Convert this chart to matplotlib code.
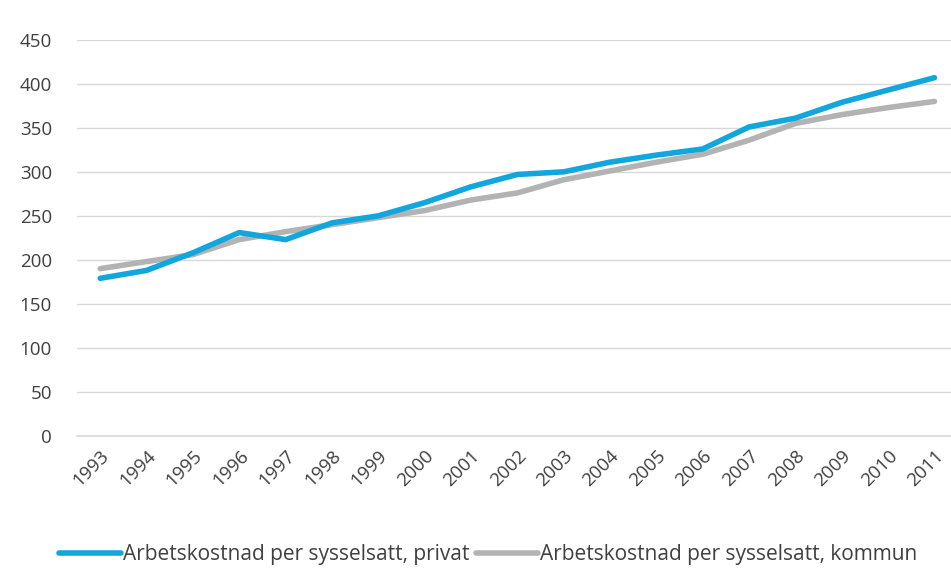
import matplotlib.pyplot as plt

years = [str(y) for y in range(1993, 2012)]
privat = [179, 188, 208, 231, 223, 242, 250, 265, 283, 297, 300, 311, 319, 326, 351, 361, 379, 393, 407]
kommun = [190, 198, 206, 223, 232, 240, 248, 256, 268, 276, 291, 301, 311, 320, 336, 355, 365, 373, 380]
yticks = list(range(0, 451, 50))

plt.rcParams['font.family'] = ['Open Sans', 'DejaVu Sans']

fig = plt.figure(figsize=(9.51, 5.69), dpi=100)
ax = fig.add_axes([0.081, 0.234, 0.926, 0.696])

x = list(range(len(years)))
ax.plot(x, privat, color='#13a6dd', lw=4, solid_capstyle='round', solid_joinstyle='round',
        label='Arbetskostnad per sysselsatt, privat', zorder=3)
ax.plot(x, kommun, color='#b3b3b3', lw=4, solid_capstyle='round', solid_joinstyle='round',
        label='Arbetskostnad per sysselsatt, kommun', zorder=2)

ax.set_xlim(-0.5, len(years) - 0.5)
ax.set_ylim(0, 450)
ax.set_yticks(yticks)
ax.set_xticks(x)
ax.set_xticklabels(years, rotation=45, ha='right', rotation_mode='anchor')
ax.grid(axis='y', color='#d9d9d9', lw=1)
ax.axhline(0, color='#d9d9d9', lw=1.2, clip_on=False, zorder=1)
ax.set_axisbelow(True)
for s in ax.spines.values():
    s.set_visible(False)
ax.tick_params(length=0, labelsize=13.5, colors='#404040')
ax.tick_params(axis='y', pad=18)
ax.tick_params(axis='x', pad=8)

fig.legend(loc='lower left', bbox_to_anchor=(0.042, -0.026), ncol=2, frameon=False,
           fontsize=15, handlelength=3.0, handletextpad=0.1, columnspacing=0.3,
           labelcolor='#404040')

fig.savefig('out.png', dpi=100)
